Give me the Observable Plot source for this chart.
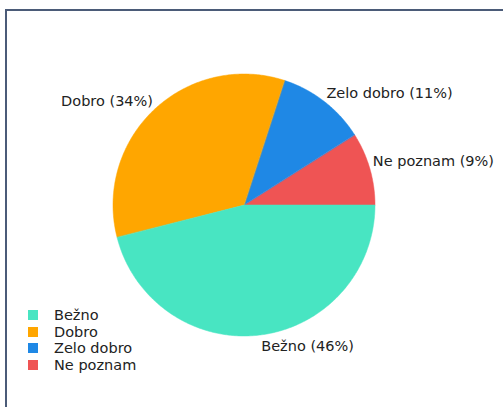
<!DOCTYPE html>
<html>
<head>
<meta charset="utf-8">
<script src="https://cdn.jsdelivr.net/npm/d3@7"></script>
<script src="https://cdn.jsdelivr.net/npm/@observablehq/plot@0.6"></script>
<style>
  html, body { margin: 0; padding: 0; background: #fff; overflow: hidden; }
  #wrap { position: relative; width: 503px; height: 407px; overflow: hidden; font-family: "DejaVu Sans", Verdana, sans-serif; }
  .ln { position: absolute; background: #4b5b78; }
  #chart { position: absolute; left: 0; top: 0; }
  #legend { position: absolute; left: 28px; top: 307px; font-size: 14.5px; color: #222; }
  .row { display: flex; align-items: center; height: 16.5px; }
  .sw { width: 10px; height: 10px; margin-right: 16px; }
</style>
</head>
<body>
<div id="wrap">
  <div class="ln" style="left:5px; top:9px; width:498px; height:2px;"></div>
  <div class="ln" style="left:5px; top:9px; width:2px; height:398px;"></div>
  <div id="chart"></div>
  <div id="legend"></div>
</div>
<script>
const categories = ["Ne poznam", "Zelo dobro", "Dobro", "Bežno"];
const values = [9, 11, 34, 46];
const colors = ["#ef5454", "#1f88e5", "#ffa600", "#48e5c2"];
const legendOrder = ["Bežno", "Dobro", "Zelo dobro", "Ne poznam"];

const W = 503, H = 407, cx = 244, cy = 205, R = 131;
const total = d3.sum(values);

// angles counter-clockwise from 3 o'clock
let acc = 0;
const slices = categories.map((c, i) => {
  const a0 = acc / total * 2 * Math.PI;
  acc += values[i];
  const a1 = acc / total * 2 * Math.PI;
  return {cat: c, value: values[i], a0, a1, pct: Math.round(values[i] / total * 100)};
});

const arcPts = [];
for (const s of slices) {
  const n = Math.max(8, Math.ceil((s.a1 - s.a0) / 0.01));
  for (let k = 0; k <= n; k++) {
    const t = s.a0 + (s.a1 - s.a0) * k / n;
    arcPts.push({cat: s.cat, x: Math.cos(t), y: Math.sin(t)});
  }
}

const labels = slices.map(s => {
  const m = (s.a0 + s.a1) / 2;
  return {
    text: `${s.cat} (${s.pct}%)`,
    x: 1.02 * Math.cos(m), y: 1.02 * Math.sin(m),
    start: Math.cos(m) >= 0,
    top: Math.sin(m) >= 0
  };
});

const color = {domain: categories, range: colors};
const xDom = [-cx / R, (W - cx) / R];
const yDom = [-(H - cy) / R, cy / R];

const textOpts = {x: "x", y: "y", text: "text", fontSize: 14.5, fill: "#222"};
const plot = Plot.plot({
  width: W, height: H,
  margin: 0,
  x: {domain: xDom, axis: null},
  y: {domain: yDom, axis: null},
  color,
  style: {background: "transparent", fontFamily: "'DejaVu Sans', Verdana, sans-serif"},
  marks: [
    Plot.area(arcPts, {x1: "x", y1: "y", x2: () => 0, y2: () => 0, z: "cat", fill: "cat", stroke: "cat", strokeWidth: 0.5, curve: "linear"}),
    Plot.text(labels.filter(d => d.top && d.start), {...textOpts, textAnchor: "start", lineAnchor: "bottom", dy: -2}),
    Plot.text(labels.filter(d => d.top && !d.start), {...textOpts, textAnchor: "end", lineAnchor: "bottom", dy: -2}),
    Plot.text(labels.filter(d => !d.top && d.start), {...textOpts, textAnchor: "start", lineAnchor: "top", dy: 3}),
    Plot.text(labels.filter(d => !d.top && !d.start), {...textOpts, textAnchor: "end", lineAnchor: "top", dy: 3})
  ]
});
document.getElementById("chart").appendChild(plot);

const lg = document.getElementById("legend");
for (const c of legendOrder) {
  const row = document.createElement("div");
  row.className = "row";
  const sw = document.createElement("div");
  sw.className = "sw";
  sw.style.background = colors[categories.indexOf(c)];
  const tx = document.createElement("span");
  tx.textContent = c;
  row.appendChild(sw); row.appendChild(tx);
  lg.appendChild(row);
}
</script>
</body>
</html>
